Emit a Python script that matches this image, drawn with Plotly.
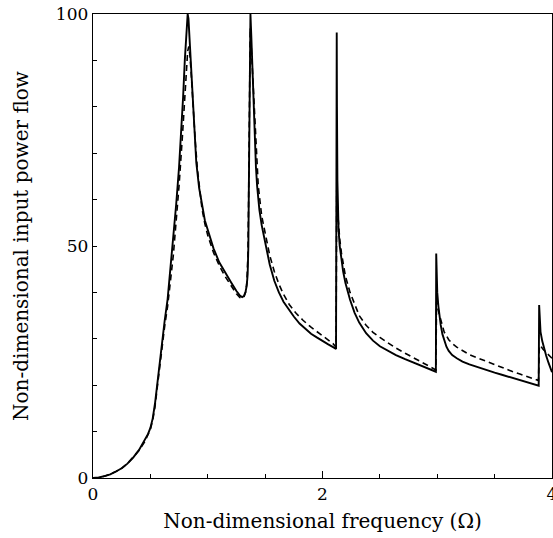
import plotly.graph_objects as go

# Solid curve
omega_solid = [0, 0.05, 0.1, 0.15, 0.2, 0.25, 0.3, 0.35, 0.4, 0.45, 0.48, 0.5, 0.52, 0.54, 0.56,
               0.58, 0.6, 0.625, 0.65, 0.675, 0.7, 0.725, 0.75, 0.77, 0.785, 0.8, 0.81, 0.818,
               0.825, 0.832, 0.84, 0.85, 0.86, 0.87, 0.88, 0.89, 0.9, 0.925, 0.95, 0.975, 1.0,
               1.05, 1.1, 1.15, 1.2, 1.25, 1.28, 1.3, 1.315, 1.33, 1.34, 1.348, 1.354, 1.358,
               1.362, 1.365, 1.367, 1.372, 1.38, 1.39, 1.4, 1.41, 1.42, 1.43, 1.44, 1.45, 1.47,
               1.5, 1.54, 1.58, 1.62, 1.66, 1.7, 1.75, 1.8, 1.85, 1.9, 1.95, 2.0, 2.05, 2.1,
               2.118, 2.121, 2.124, 2.126, 2.13, 2.135, 2.14, 2.15, 2.165, 2.18, 2.2, 2.24, 2.28,
               2.32, 2.38, 2.44, 2.5, 2.57, 2.64, 2.72, 2.8, 2.88, 2.95, 2.988, 2.991, 2.994,
               3.0, 3.01, 3.02, 3.03, 3.045, 3.06, 3.08, 3.1, 3.13, 3.17, 3.22, 3.28, 3.35, 3.42,
               3.5, 3.57, 3.65, 3.72, 3.8, 3.884, 3.888, 3.892, 3.9, 3.915, 3.93, 3.95, 3.97,
               4.0]
power_solid = [0, 0.1, 0.4, 0.8, 1.4, 2.1, 3.1, 4.4, 6.0, 8.0, 9.5, 10.8, 12.8, 16, 20.5,
               25, 29.5, 34, 38.5, 45, 51, 59, 67, 75, 82, 90, 95, 99,
               100, 99, 95.5, 90, 86, 82, 77, 72, 68, 62.5, 58.5, 55.5, 53.5,
               49.5, 46.5, 44.3, 42.3, 40.3, 39.3, 39, 39.2, 40.2, 41.5, 44, 50, 62,
               80, 95, 100, 100, 95, 88, 79, 72, 67, 63, 60, 57.8, 54.5,
               50.5, 46, 42.5, 40, 38, 36.5, 34.8, 33.3, 32.1, 31.1, 30.3, 29.5, 28.8, 28.1,
               27.8, 60, 96, 80, 64, 57, 53.5, 50, 47, 44.5, 42, 38.4, 35.6,
               33.5, 31.2, 29.6, 28.4, 27.4, 26.5, 25.6, 24.8, 24, 23.3, 22.9, 48.4, 44,
               40, 37, 34.8, 33, 31, 29.7, 28.3, 27.4, 26.5, 25.8, 25.1, 24.5, 23.9, 23.3,
               22.7, 22.2, 21.6, 21.1, 20.5, 19.9, 37.3, 34, 31.5, 29.5, 28, 26.3, 24.8,
               22.8]

# Dashed curve
omega_dashed = [0, 0.05, 0.1, 0.15, 0.2, 0.25, 0.3, 0.35, 0.4, 0.45, 0.48, 0.5, 0.52, 0.54, 0.56,
                0.58, 0.6, 0.625, 0.65, 0.675, 0.7, 0.725, 0.75, 0.78, 0.8, 0.815, 0.825, 0.835,
                0.845, 0.855, 0.87, 0.89, 0.91, 0.93, 0.95, 0.975, 1.0, 1.05, 1.1, 1.15, 1.2,
                1.25, 1.28, 1.3, 1.315, 1.33, 1.34, 1.35, 1.356, 1.361, 1.366, 1.37, 1.375,
                1.385, 1.4, 1.42, 1.44, 1.47, 1.5, 1.54, 1.58, 1.62, 1.66, 1.71, 1.77, 1.83,
                1.9, 1.95, 2.0, 2.05, 2.09, 2.118, 2.124, 2.13, 2.14, 2.15, 2.165, 2.18, 2.2,
                2.24, 2.28, 2.32, 2.38, 2.44, 2.5, 2.57, 2.64, 2.72, 2.8, 2.88, 2.95, 2.988,
                2.994, 3.0, 3.015, 3.03, 3.06, 3.1, 3.13, 3.17, 3.22, 3.28, 3.35, 3.42, 3.5,
                3.57, 3.65, 3.72, 3.8, 3.882, 3.89, 3.9, 3.92, 3.95, 4.0]
power_dashed = [0, 0.1, 0.4, 0.8, 1.4, 2.1, 3.1, 4.4, 5.9, 7.8, 9.3, 10.5, 12.4, 15.3, 19.5,
                24, 28.3, 32.8, 37, 42.5, 48, 55.5, 63, 74, 83, 89, 92, 93,
                91, 87.5, 80.5, 73, 66.5, 62, 58, 54.8, 52.3, 48.6, 45.8, 43.5, 41.5,
                39.7, 38.9, 38.7, 39, 40, 42, 48, 60, 80, 95, 97, 95,
                90, 81, 70, 63, 56.5, 52.5, 48, 44.5, 41.8, 39.6, 37.4, 35.5, 34,
                32.5, 31.6, 30.7, 29.8, 29, 28.2, 62, 58, 54, 51.5, 48.5, 46, 43.5,
                40, 37.3, 35, 32.9, 31.4, 30.3, 29.1, 28, 26.9, 25.8, 24.8, 23.9, 23.3,
                38, 37.5, 35.5, 34, 31.5, 29.8, 29, 28.2, 27.4, 26.6, 25.9, 25.2, 24.4,
                23.7, 23, 22.4, 21.7, 21.0, 28.5, 28.5, 27.8, 27.0, 25.8]

x_tick_vals = [0, 2, 4]
x_tick_text = ["0", "2", "4"]
y_tick_vals = [0, 50, 100]
y_tick_text = ["0", "50", "100"]

FONT = "DejaVu Serif"

fig = go.Figure()
fig.add_trace(go.Scatter(x=omega_dashed, y=power_dashed, mode="lines",
                         line=dict(color="black", width=1.6, dash="6px,4px"),
                         showlegend=False, hoverinfo="skip"))
fig.add_trace(go.Scatter(x=omega_solid, y=power_solid, mode="lines",
                         line=dict(color="black", width=1.9),
                         showlegend=False, hoverinfo="skip"))

fig.update_layout(
    width=553, height=538,
    margin=dict(l=93, r=1, t=14, b=60),
    paper_bgcolor="white", plot_bgcolor="white",
    font=dict(family=FONT, size=17, color="black"),
    xaxis=dict(
        range=[0, 4], showgrid=False, zeroline=False, automargin=False,
        showline=True, linecolor="black", linewidth=1.3, mirror=True,
        tickmode="array", tickvals=x_tick_vals, ticktext=x_tick_text,
        ticks="inside", ticklen=7, tickwidth=1, tickcolor="black",
        ticklabeloverflow="allow",
        minor=dict(dtick=0.5, ticks="inside", ticklen=4, tickwidth=1, tickcolor="black", showgrid=False),
        tickfont=dict(family=FONT, size=17),
        title=dict(text="Non-dimensional frequency (Ω)", font=dict(family=FONT, size=20), standoff=11),
    ),
    yaxis=dict(
        range=[0, 100], showgrid=False, zeroline=False, automargin=False,
        showline=True, linecolor="black", linewidth=1.3, mirror=True,
        tickmode="array", tickvals=y_tick_vals, ticktext=y_tick_text,
        ticks="inside", ticklen=4, tickwidth=1, tickcolor="black",
        ticklabeloverflow="allow",
        minor=dict(dtick=10, ticks="inside", ticklen=4, tickwidth=1, tickcolor="black", showgrid=False),
        tickfont=dict(family=FONT, size=17),
        title=dict(text="Non-dimensional input power flow", font=dict(family=FONT, size=20), standoff=21),
    ),
)

fig.write_html(
    "out.html",
    config={"displayModeBar": False, "staticPlot": True},
    post_script="document.body.style.margin='0';document.body.style.overflow='hidden';",
)
